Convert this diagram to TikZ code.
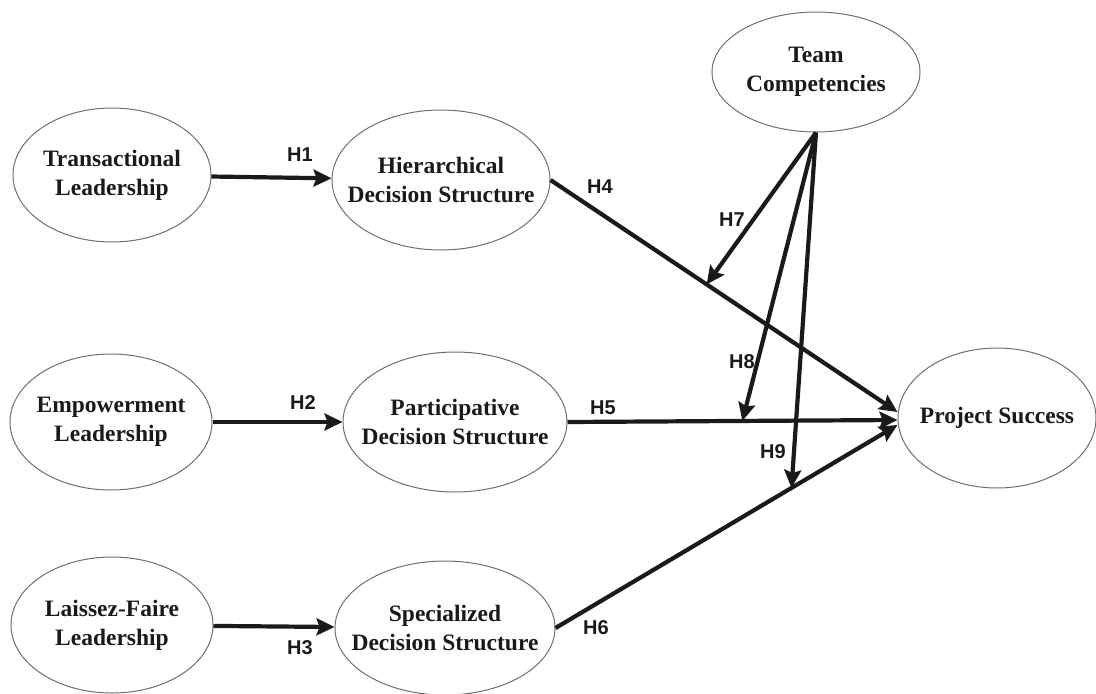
\documentclass[tikz,border=0pt]{standalone}
\usepackage{fontspec}
\setmainfont{Liberation Serif}
\newfontfamily\hypfont{Liberation Sans}
\usetikzlibrary{positioning,arrows.meta,calc,shapes.geometric}
\definecolor{rimgray}{HTML}{6E6E6E}
\definecolor{inkblack}{HTML}{1A1A1A}
\tikzset{
  construct/.style={ellipse, draw=rimgray, line width=1pt, align=center,
                    inner xsep=-40pt, inner ysep=-30pt,
                    font=\fontsize{23.5}{29}\selectfont\bfseries, text=inkblack},
  hyp/.style      ={font=\hypfont\fontsize{20}{22}\selectfont\bfseries, text=inkblack},
  link/.style     ={-{Stealth[length=18pt,width=17pt,inset=3pt]}, line width=4.2pt, draw=inkblack},
}

\begin{document}
\begin{tikzpicture}[x=1pt,y=-1pt]
    \useasboundingbox (0,0) rectangle (1096,694);
    % --- leadership styles ---
    \node[construct,minimum width=198pt,minimum height=134pt] (trans) at (112,175) {Transactional\\Leadership};
    \node[construct,minimum width=202pt,minimum height=136pt] (empow) at (111,422) {Empowerment\\Leadership};
    \node[construct,minimum width=202pt,minimum height=136pt] (laiss) at (112,625) {Laissez-Faire\\Leadership};
    % --- decision structures ---
    \node[construct,minimum width=218pt,minimum height=140pt] (hier) at (441,180) {Hierarchical\\Decision Structure};
    \node[construct,minimum width=224pt,minimum height=140pt] (part) at (455,422) {Participative\\Decision Structure};
    \node[construct,minimum width=220pt,minimum height=134pt] (spec) at (445,628) {Specialized\\Decision Structure};
    % --- moderator and outcome ---
    \node[construct,minimum width=208pt,minimum height=120pt] (team) at (816,72) {Team\\Competencies};
    \node[construct,minimum width=198pt,minimum height=140pt] (ps) at (997,418) {Project Success};

    % --- direct paths ---
    \draw[link] (trans) -- (hier);
    \draw[link] (empow) -- (part);
    \draw[link] (laiss) -- (spec);
    \draw[link] (hier.east) -- ([yshift=6pt]ps.west);
    \draw[link] (part.east) -- ([yshift=-2pt]ps.west);
    \draw[link] (spec.east) -- ([yshift=-7pt]ps.west);

    % --- moderation onto the paths ---
    \coordinate (m4) at ($(hier.east)!0.45!([yshift=6pt]ps.west)$);
    \coordinate (m5) at ($(part.east)!0.53!([yshift=-2pt]ps.west)$);
    \coordinate (m6) at ($(spec.east)!0.69!([yshift=-7pt]ps.west)$);
    \draw[link] (team.south) -- (m4);
    \draw[link] (team.south) -- (m5);
    \draw[link] (team.south) -- (m6);

    % --- hypothesis labels ---
    \node[hyp] (h1) at (300,155) {H1};
    \node[hyp] (h2) at (303,403) {H2};
    \node[hyp] (h3) at (300,648) {H3};
    \node[hyp] (h4) at (600,187) {H4};
    \node[hyp] (h5) at (603,408) {H5};
    \node[hyp] (h6) at (596,628) {H6};
    \node[hyp] (h7) at (732,220) {H7};
    \node[hyp] (h8) at (742,362) {H8};
    \node[hyp] (h9) at (773,452) {H9};
\end{tikzpicture}
\end{document}
